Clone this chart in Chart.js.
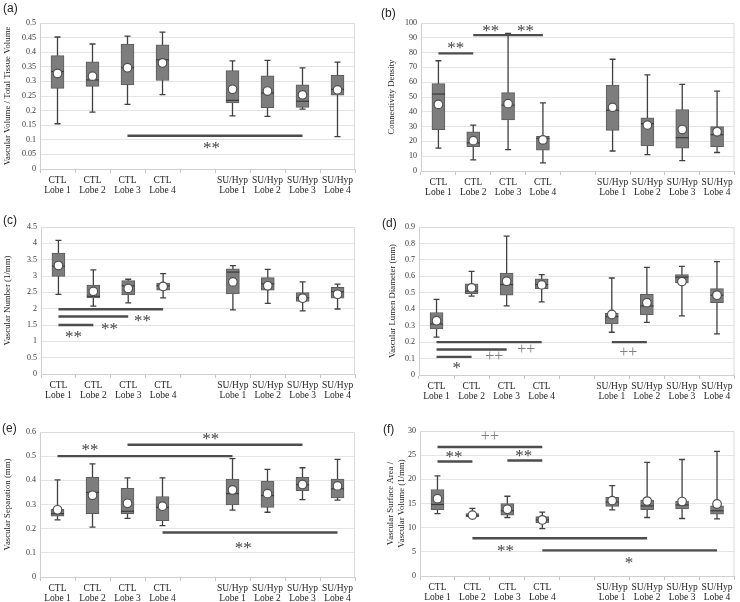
<!DOCTYPE html>
<html>
<head>
<meta charset="utf-8">
<script src="https://cdn.jsdelivr.net/npm/chart.js@4.4.1/dist/chart.umd.min.js"></script>
<style>
  body { margin: 0; background: #fff; }
  #wrap { position: relative; width: 740px; height: 602px; overflow: hidden; }
  .panel { position: absolute; }
  .tag { position: absolute; font: 12px "Liberation Sans", Arial, sans-serif; color: #222; }
</style>
</head>
<body>
<div id="wrap">
  <div class="panel" style="left:0;top:0;width:370px;height:200px"><canvas id="ca"></canvas></div>
  <div class="panel" style="left:370px;top:0;width:370px;height:200px"><canvas id="cb"></canvas></div>
  <div class="panel" style="left:0;top:200px;width:370px;height:200px"><canvas id="cc"></canvas></div>
  <div class="panel" style="left:370px;top:200px;width:370px;height:200px"><canvas id="cd"></canvas></div>
  <div class="panel" style="left:0;top:400px;width:370px;height:202px"><canvas id="ce"></canvas></div>
  <div class="panel" style="left:370px;top:400px;width:370px;height:202px"><canvas id="cf"></canvas></div>
  <div class="tag" style="left:3px;top:1px">(a)</div>
  <div class="tag" style="left:381px;top:6px">(b)</div>
  <div class="tag" style="left:3px;top:213px">(c)</div>
  <div class="tag" style="left:382px;top:216px">(d)</div>
  <div class="tag" style="left:2px;top:421px">(e)</div>
  <div class="tag" style="left:383px;top:422px">(f)</div>
</div>
<script>
// categories (index 4 is the empty gap between groups)
const categories = [['CTL', 'Lobe 1'], ['CTL', 'Lobe 2'], ['CTL', 'Lobe 3'], ['CTL', 'Lobe 4'], '',
  ['SU/Hyp', 'Lobe 1'], ['SU/Hyp', 'Lobe 2'], ['SU/Hyp', 'Lobe 3'], ['SU/Hyp', 'Lobe 4']];

// (a) vascular volume / total tissue volume
const aMin  = [0.155, 0.195, 0.221, 0.255, 0.182, 0.180, 0.205, 0.111];
const aQ1   = [0.276, 0.283, 0.288, 0.303, 0.226, 0.210, 0.211, 0.253];
const aMed  = [0.334, 0.305, 0.347, 0.374, 0.235, 0.260, 0.232, 0.273];
const aQ3   = [0.388, 0.367, 0.428, 0.425, 0.337, 0.319, 0.288, 0.321];
const aMax  = [0.452, 0.428, 0.455, 0.469, 0.370, 0.372, 0.346, 0.366];
const aMean = [0.327, 0.318, 0.347, 0.363, 0.273, 0.267, 0.254, 0.271];
const aTicks = [0, 0.5, 0.05];
// [from, to, y, label, labelX, labelY]
const aSig = [[2, 7, 0.114, '**', 4.4, 0.083]];

// (b) connectivity density
const bMin  = [15.5, 7.5, 14.5, 5.5, 13.5, 11, 7, 12.5];
const bQ1   = [28, 16.5, 34.5, 14, 27.5, 17, 15.5, 16.5];
const bMed  = [52, 19, 44.5, 22, 41, 32, 22.5, 24.5];
const bQ3   = [59, 26.5, 53, 23.5, 58, 36, 41.5, 30];
const bMax  = [74.5, 31, 93, 46, 75.5, 65, 58.5, 54];
const bMean = [45, 20.5, 45.5, 21, 43, 31, 28, 26.5];
const bTicks = [0, 100, 10];
const bSig = [[0, 1, 79.5, '**', 0.5, 85], [1, 2, 91.8, '**', 1.5, 97], [2, 3, 91.8, '**', 2.5, 97]];

// (c) vascular number
const cMin  = [2.44, 2.08, 2.18, 2.33, 1.96, 2.16, 1.93, 1.99];
const cQ1   = [2.99, 2.33, 2.42, 2.57, 2.45, 2.57, 2.22, 2.32];
const cMed  = [3.30, 2.38, 2.70, 2.70, 3.12, 2.76, 2.33, 2.52];
const cQ3   = [3.70, 2.72, 2.86, 2.78, 3.22, 2.95, 2.49, 2.65];
const cMax  = [4.09, 3.19, 2.90, 3.07, 3.32, 3.20, 2.82, 2.75];
const cMean = [3.32, 2.53, 2.62, 2.68, 2.82, 2.70, 2.32, 2.44];
const cTicks = [0, 4.5, 0.5];
const cSig = [[0, 1, 1.50, '**', 0.43, 1.22], [0, 2, 1.76, '**', 1.46, 1.47], [0, 3, 1.98, '**', 2.41, 1.73]];

// (d) vascular lumen diameter
const dMin  = [0.23, 0.48, 0.42, 0.445, 0.26, 0.32, 0.36, 0.25];
const dQ1   = [0.28, 0.495, 0.485, 0.525, 0.31, 0.365, 0.56, 0.44];
const dMed  = [0.31, 0.51, 0.55, 0.55, 0.355, 0.42, 0.595, 0.485];
const dQ3   = [0.38, 0.555, 0.62, 0.585, 0.375, 0.49, 0.61, 0.525];
const dMax  = [0.46, 0.63, 0.845, 0.61, 0.59, 0.655, 0.66, 0.69];
const dMean = [0.33, 0.53, 0.57, 0.548, 0.368, 0.44, 0.568, 0.485];
const dTicks = [0, 0.9, 0.1];
const dSig = [[0, 1, 0.11, '*', 0.58, 0.062], [0, 2, 0.155, '++', 1.65, 0.11],
  [0, 3, 0.20, '++', 2.56, 0.153], [5, 6, 0.20, '++', 5.47, 0.133]];

// (e) vascular separation
const eMin  = [0.236, 0.206, 0.243, 0.213, 0.277, 0.268, 0.320, 0.318];
const eQ1   = [0.252, 0.262, 0.262, 0.233, 0.298, 0.288, 0.357, 0.327];
const eMed  = [0.262, 0.350, 0.272, 0.288, 0.345, 0.337, 0.382, 0.365];
const eQ3   = [0.280, 0.412, 0.367, 0.333, 0.405, 0.397, 0.412, 0.405];
const eMax  = [0.402, 0.468, 0.410, 0.410, 0.490, 0.445, 0.452, 0.487];
const eMean = [0.278, 0.338, 0.305, 0.293, 0.360, 0.345, 0.383, 0.377];
const eTicks = [0, 0.6, 0.1];
const eSig = [[0, 5, 0.50, '**', 0.93, 0.54], [2, 7, 0.547, '**', 4.38, 0.585], [3, 8, 0.184, '**', 5.31, 0.135]];

// (f) vascular surface area / vascular volume
const fMin  = [12.9, 12.0, 12.1, 9.8, 13.7, 12.1, 11.9, 11.8];
const fQ1   = [13.7, 12.2, 12.6, 11.0, 14.4, 13.7, 13.9, 12.8];
const fMed  = [14.8, 12.5, 13.5, 11.6, 15.3, 14.5, 14.7, 13.5];
const fQ3   = [17.9, 12.9, 15.0, 12.3, 16.3, 15.7, 15.5, 14.5];
const fMax  = [20.7, 14.0, 16.5, 13.2, 18.7, 23.5, 24.1, 25.8];
const fMean = [16.0, 12.6, 13.8, 11.6, 15.6, 15.5, 15.4, 14.9];
const fTicks = [0, 30, 5];
const fSig = [[0, 3, 26.7, '++', 1.5, 28.7], [0, 1, 23.7, '**', 0.47, 25.2], [2, 3, 23.9, '**', 2.47, 25.4],
  [1, 6, 7.8, '**', 1.95, 5.8], [3, 8, 5.3, '*', 5.48, 3.3]];

const SERIF = '"Liberation Serif", "Times New Roman", serif';

// put a null into the gap slot
function withGap(arr) {
  return [...arr.slice(0, 4), null, ...arr.slice(4)];
}

function boxPlugin(lo, med, hi, sigs) {
  return {
    id: 'boxExtras',
    beforeDatasetsDraw(chart) {
      const { ctx, scales: { x, y } } = chart;
      ctx.save();
      ctx.strokeStyle = '#404040';
      ctx.lineWidth = 1.3;
      lo.forEach((v, i) => {
        if (v == null) return;
        const px = x.getPixelForValue(i);
        const t = y.getPixelForValue(hi[i]);
        const b = y.getPixelForValue(v);
        ctx.beginPath();
        ctx.moveTo(px, t); ctx.lineTo(px, b);
        ctx.moveTo(px - 3, t); ctx.lineTo(px + 3, t);
        ctx.moveTo(px - 3, b); ctx.lineTo(px + 3, b);
        ctx.stroke();
      });
      ctx.restore();
    },
    afterDatasetDraw(chart, args) {
      if (args.meta.type !== 'bar') return;
      const { ctx, scales: { x, y } } = chart;
      ctx.save();
      ctx.strokeStyle = '#3a3a3a';
      ctx.lineWidth = 1.2;
      med.forEach((v, i) => {
        if (v == null) return;
        const px = x.getPixelForValue(i);
        const py = y.getPixelForValue(v);
        ctx.beginPath();
        ctx.moveTo(px - 6.5, py); ctx.lineTo(px + 6.5, py);
        ctx.stroke();
      });
      ctx.restore();
    },
    afterDatasetsDraw(chart) {
      const { ctx, chartArea: ca, scales: { x, y } } = chart;
      ctx.save();
      // light frame on top / right
      ctx.strokeStyle = '#dcdcdc';
      ctx.lineWidth = 1;
      ctx.beginPath();
      ctx.moveTo(ca.left, ca.top + 0.5); ctx.lineTo(ca.right - 0.5, ca.top + 0.5); ctx.lineTo(ca.right - 0.5, ca.bottom);
      ctx.stroke();
      // significance bars
      sigs.forEach(([from, to, v, label, lx, ly]) => {
        const py = y.getPixelForValue(v);
        ctx.strokeStyle = '#4d4d4d';
        ctx.lineWidth = 2.4;
        ctx.beginPath();
        ctx.moveTo(x.getPixelForValue(from), py);
        ctx.lineTo(x.getPixelForValue(to), py);
        ctx.stroke();
        const plus = label.indexOf('+') >= 0;
        const size = plus ? 16 : 17;
        ctx.fillStyle = plus ? '#808080' : '#444';
        ctx.font = size + 'px ' + SERIF;
        ctx.textAlign = 'center';
        ctx.textBaseline = 'middle';
        ctx.fillText(label, x.getPixelForValue(lx), y.getPixelForValue(ly) + (plus ? 0 : size * 0.22));
      });
      ctx.restore();
    }
  };
}

function makePanel(id, title, ticks, lo, q1, med, q3, hi, mean, sigs, lay) {
  const [yMin, yMax, step] = ticks;
  new Chart(document.getElementById(id), {
    data: {
      labels: categories,
      datasets: [
        {
          type: 'line',
          data: withGap(mean),
          showLine: false,
          pointRadius: 4.3,
          pointBackgroundColor: '#fff',
          pointBorderColor: '#505050',
          pointBorderWidth: 1.2
        },
        {
          type: 'bar',
          data: withGap(q1.map((v, i) => [v, q3[i]])),
          backgroundColor: '#7d7d7d',
          borderColor: '#5c5c5c',
          borderWidth: 1,
          borderSkipped: false,
          barThickness: 13
        }
      ]
    },
    options: {
      responsive: true,
      maintainAspectRatio: false,
      animation: false,
      layout: { padding: { left: lay.padLeft, top: lay.padTop, right: lay.padRight, bottom: 0 } },
      plugins: { legend: { display: false }, tooltip: { enabled: false } },
      scales: {
        x: {
          grid: { offset: true, drawOnChartArea: false, color: '#c4c4c4', tickLength: 4 },
          border: { color: '#cfcfcf' },
          ticks: {
            autoSkip: false, maxRotation: 0, minRotation: 0, padding: 2, color: '#222',
            font: { family: SERIF, size: 9.5, lineHeight: 1.12 }
          },
          afterFit(s) { s.height = lay.xHeight; }
        },
        y: {
          min: yMin, max: yMax,
          grid: { color: '#e4e4e4', drawTicks: false },
          border: { color: '#cfcfcf' },
          ticks: {
            stepSize: step, padding: 4, color: '#333',
            font: { family: SERIF, size: 8 },
            callback: v => String(+v.toFixed(2))
          },
          title: {
            display: true, text: title, color: '#222', padding: { top: 2.5, bottom: 0 },
            font: { family: SERIF, size: 8.8, lineHeight: 1.25 }
          },
          afterFit(s) { s.width = lay.yWidth; }
        }
      }
    },
    plugins: [boxPlugin(withGap(lo), withGap(med), withGap(hi), sigs)]
  });
}

makePanel('ca', 'Vascular Volume / Total Tissue Volume', aTicks, aMin, aQ1, aMed, aQ3, aMax, aMean, aSig,
  { padLeft: 0, yWidth: 40, padTop: 23, padRight: 15, xHeight: 31 });
makePanel('cb', 'Connectivity Density', bTicks, bMin, bQ1, bMed, bQ3, bMax, bMean, bSig,
  { padLeft: 14, yWidth: 37, padTop: 23, padRight: 2, xHeight: 29 });
makePanel('cc', 'Vascular Number (1/mm)', cTicks, cMin, cQ1, cMed, cQ3, cMax, cMean, cSig,
  { padLeft: 0, yWidth: 41, padTop: 27, padRight: 15, xHeight: 26 });
makePanel('cd', 'Vascular Lumen Diameter (mm)', dTicks, dMin, dQ1, dMed, dQ3, dMax, dMean, dSig,
  { padLeft: 15, yWidth: 34, padTop: 27, padRight: 3, xHeight: 25 });
makePanel('ce', 'Vascular Separation (mm)', eTicks, eMin, eQ1, eMed, eQ3, eMax, eMean, eSig,
  { padLeft: 0, yWidth: 40, padTop: 32, padRight: 15, xHeight: 25 });
makePanel('cf', ['Vascular Surface Area /', 'Vascular Volume (1/mm)'], fTicks, fMin, fQ1, fMed, fQ3, fMax, fMean, fSig,
  { padLeft: 13, yWidth: 37, padTop: 31, padRight: 3, xHeight: 26 });
</script>
</body>
</html>
